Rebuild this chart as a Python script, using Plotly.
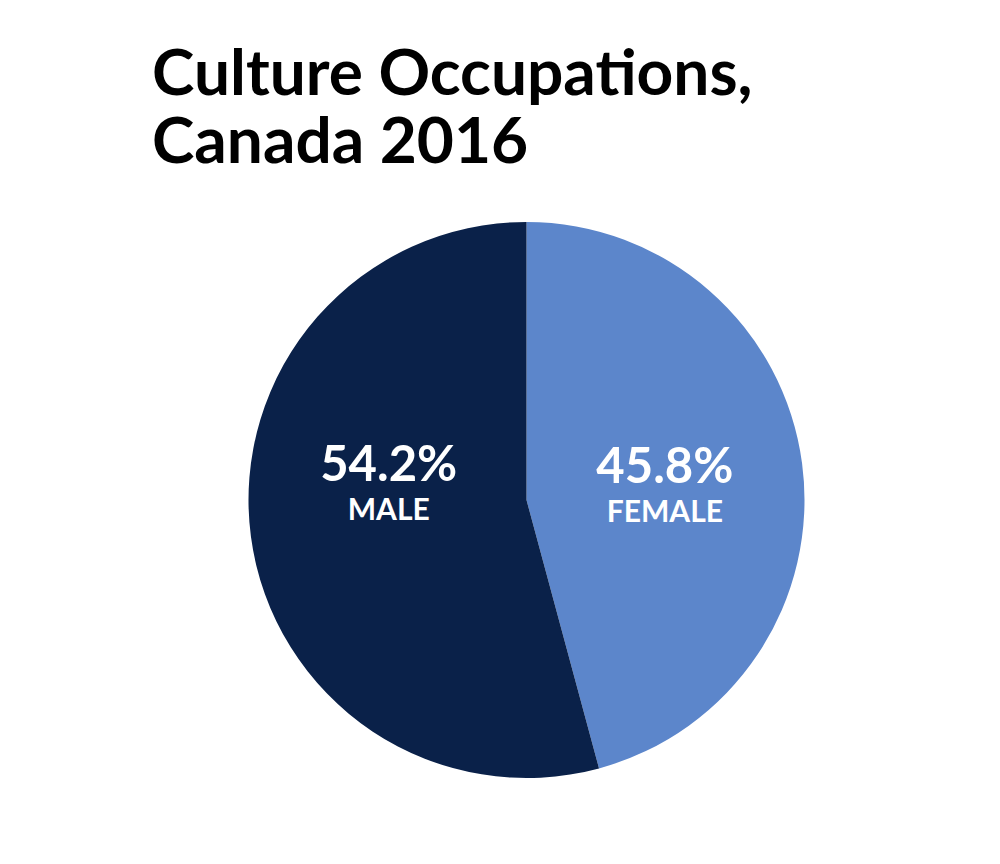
import plotly.graph_objects as go

labels = ["FEMALE", "MALE"]
values = [45.8, 54.2]
colors = ["#5C86CB", "#0A2149"]
title_lines = ["Culture Occupations,", "Canada 2016"]

W, H = 1000, 864
off = 8  # page body margin
cx, cy, r = 526.5 - off, 500 - off, 278

base_tpl = "<span style='font-size:49px'><b>%{value:.1f}%</b></span><br><b>%{label}</b>"
# the male block gets a blank trailing line so its label sits level with the female one
templates = [base_tpl, base_tpl + "<br>&nbsp;<br>&nbsp;"]

fig = go.Figure(go.Pie(
    labels=labels,
    values=values,
    sort=False,
    direction="clockwise",
    rotation=0,
    marker=dict(colors=colors, line=dict(width=0)),
    texttemplate=templates,
    textposition="inside",
    insidetextorientation="horizontal",
    textfont=dict(family="Lato", size=30, color="white"),
    hoverinfo="skip",
    showlegend=False,
    domain=dict(x=[(cx - r) / W, (cx + r) / W], y=[(H - cy - r) / H, (H - cy + r) / H]),
))

title_mid = [70 - off, 138 - off]
for line, ym in zip(title_lines, title_mid):
    fig.add_annotation(
        text="<b>" + line + "</b>",
        xref="paper", yref="paper",
        x=(150 - off) / W, xanchor="left",
        y=1 - ym / H, yanchor="middle",
        showarrow=False,
        font=dict(family="Lato", size=64, color="black"),
    )

fig.update_layout(
    width=W, height=H,
    margin=dict(l=0, r=0, t=0, b=0),
    paper_bgcolor="white",
    plot_bgcolor="white",
)

fig.write_html("out.html")
